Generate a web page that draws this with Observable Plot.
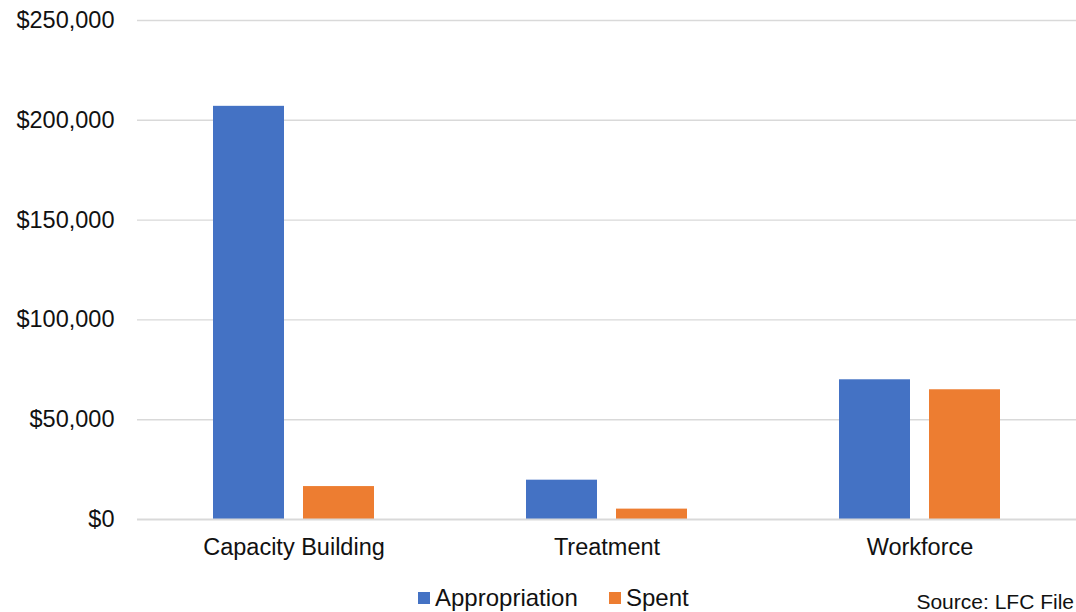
<!DOCTYPE html>
<html>
<head>
<meta charset="utf-8">
<script src="https://cdn.jsdelivr.net/npm/d3@7"></script>
<script src="https://cdn.jsdelivr.net/npm/@observablehq/plot@0.6"></script>
<style>
  html, body { margin: 0; padding: 0; background: #fff; }
  #wrap { position: relative; width: 1076px; height: 612px; font-family: "Liberation Sans", Arial, sans-serif; color: #111; }
  #chart svg { display: block; }
  .leg { position: absolute; top: 584px; font-size: 24px; line-height: 28px; display: flex; align-items: center; }
  .sw { display: inline-block; width: 12px; height: 12px; margin-right: 5px; }
  #source { position: absolute; right: 2px; top: 590px; font-size: 21px; line-height: 24px; }
</style>
</head>
<body>
<div id="wrap">
  <div id="chart"></div>
  <div class="leg" id="leg1" style="left:418px;"></div>
  <div class="leg" id="leg2" style="left:609px;"></div>
  <div id="source">Source: LFC File</div>
</div>
<script>
const categories = ["Capacity Building", "Treatment", "Workforce"];
const seriesNames = ["Appropriation", "Spent"];
const appropriation = [207000, 19700, 70000];
const spent = [16500, 5200, 65000];
const yTicks = [0, 50000, 100000, 150000, 200000, 250000];
const colors = ["#4472C4", "#ED7D31"];

const data = [];
categories.forEach((c, i) => {
  data.push({category: c, series: seriesNames[0], value: appropriation[i]});
  data.push({category: c, series: seriesNames[1], value: spent[i]});
});

const chart = Plot.plot({
  width: 1076,
  height: 575,
  marginLeft: 137,
  marginRight: 0,
  marginTop: 20,
  marginBottom: 56,
  style: {fontFamily: "'Liberation Sans', Arial, sans-serif", fontSize: "23.5px", color: "#111", background: "#fff"},
  fx: {domain: categories, padding: 0, label: null, axis: "bottom", tickSize: 0, tickPadding: 19},
  x: {domain: seriesNames, paddingInner: 0.211, paddingOuter: 0.844, axis: null},
  y: {domain: [0, 250000], ticks: yTicks, tickSize: 0, tickPadding: 23, label: null,
      tickFormat: d => "$" + d3.format(",")(d)},
  color: {domain: seriesNames, range: colors},
  marks: [
    Plot.ruleY(yTicks.filter(d => d > 0), {stroke: "#d9d9d9", strokeWidth: 1.4}),
    Plot.barY(data, {fx: "category", x: "series", y: "value", fill: "series"}),
    Plot.ruleY([0], {stroke: "#d9d9d9", strokeWidth: 2})
  ]
});
document.getElementById("chart").appendChild(chart);

[["leg1", 0], ["leg2", 1]].forEach(([id, i]) => {
  const el = document.getElementById(id);
  el.innerHTML = `<span class="sw" style="background:${colors[i]}"></span>${seriesNames[i]}`;
});
</script>
</body>
</html>
